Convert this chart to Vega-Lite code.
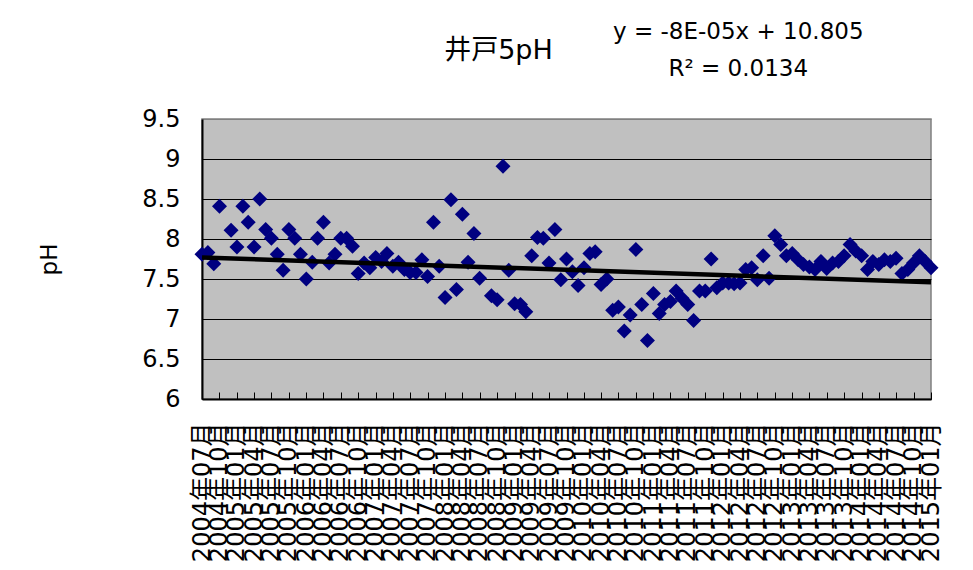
{
  "$schema": "https://vega.github.io/schema/vega-lite/v6.json",
  "width": 729,
  "height": 280,
  "autosize": "none",
  "padding": {"left": 202, "top": 119, "right": 42, "bottom": 171},
  "background": "white",
  "config": {
    "font": "DejaVu Sans, Noto Sans CJK JP",
    "view": {"fill": "#C0C0C0", "stroke": "#808080", "strokeWidth": 1.5},
    "axisX": {
      "title": null, "grid": false,
      "tickCount": {"interval": "month", "step": 3},
      "labelAngle": -90, "labelOverlap": false, "labelFlush": false, "labelBound": false,
      "labelFontSize": 24, "labelColor": "black", "labelPadding": 30,
      "domainColor": "black", "domainWidth": 2,
      "tickColor": "black", "tickWidth": 1, "tickSize": -7
    },
    "axisY": {
      "titleFontSize": 23, "titleFontWeight": "normal", "titleColor": "black", "titlePadding": 80,
      "tickCount": 8, "labelOverlap": false,
      "labelFontSize": 24, "labelColor": "black", "labelPadding": 22,
      "ticks": false, "tickSize": 0,
      "domainColor": "black", "domainWidth": 2,
      "grid": true, "gridOpacity": 1, "gridWidth": 1,
      "gridColor": {"condition": {"test": "datum.value == 9.5", "value": "#808080"}, "value": "black"}
    }
  },
  "datasets": {
    "ph": [
      {"date": "2004-07-01", "pH": 7.81}, {"date": "2004-08-01", "pH": 7.83}, {"date": "2004-09-01", "pH": 7.69}, {"date": "2004-10-01", "pH": 8.41}, {"date": "2004-12-01", "pH": 8.11},
      {"date": "2005-01-01", "pH": 7.90}, {"date": "2005-02-01", "pH": 8.41}, {"date": "2005-03-01", "pH": 8.21}, {"date": "2005-04-01", "pH": 7.90}, {"date": "2005-05-01", "pH": 8.50}, {"date": "2005-06-01", "pH": 8.12},
      {"date": "2005-07-01", "pH": 8.01}, {"date": "2005-08-01", "pH": 7.81}, {"date": "2005-09-01", "pH": 7.61}, {"date": "2005-10-01", "pH": 8.12}, {"date": "2005-11-01", "pH": 8.01}, {"date": "2005-12-01", "pH": 7.81},
      {"date": "2006-01-01", "pH": 7.50}, {"date": "2006-02-01", "pH": 7.71}, {"date": "2006-03-01", "pH": 8.01}, {"date": "2006-04-01", "pH": 8.21}, {"date": "2006-05-01", "pH": 7.70}, {"date": "2006-06-01", "pH": 7.81},
      {"date": "2006-07-01", "pH": 8.01}, {"date": "2006-08-01", "pH": 8.01}, {"date": "2006-09-01", "pH": 7.91}, {"date": "2006-10-01", "pH": 7.57}, {"date": "2006-11-01", "pH": 7.70}, {"date": "2006-12-01", "pH": 7.64},
      {"date": "2007-01-01", "pH": 7.77}, {"date": "2007-02-01", "pH": 7.72}, {"date": "2007-03-01", "pH": 7.82}, {"date": "2007-04-01", "pH": 7.66}, {"date": "2007-05-01", "pH": 7.71}, {"date": "2007-06-01", "pH": 7.62},
      {"date": "2007-07-01", "pH": 7.58}, {"date": "2007-08-01", "pH": 7.58}, {"date": "2007-09-01", "pH": 7.74}, {"date": "2007-10-01", "pH": 7.53}, {"date": "2007-11-01", "pH": 8.21}, {"date": "2007-12-01", "pH": 7.66},
      {"date": "2008-01-01", "pH": 7.27}, {"date": "2008-02-01", "pH": 8.49}, {"date": "2008-03-01", "pH": 7.37}, {"date": "2008-04-01", "pH": 8.31}, {"date": "2008-05-01", "pH": 7.71}, {"date": "2008-06-01", "pH": 8.07},
      {"date": "2008-07-01", "pH": 7.51}, {"date": "2008-09-01", "pH": 7.29}, {"date": "2008-10-01", "pH": 7.24}, {"date": "2008-11-01", "pH": 8.91}, {"date": "2008-12-01", "pH": 7.61},
      {"date": "2009-01-01", "pH": 7.19}, {"date": "2009-02-01", "pH": 7.18}, {"date": "2009-03-01", "pH": 7.09}, {"date": "2009-04-01", "pH": 7.79}, {"date": "2009-05-01", "pH": 8.02}, {"date": "2009-06-01", "pH": 8.01},
      {"date": "2009-07-01", "pH": 7.70}, {"date": "2009-08-01", "pH": 8.12}, {"date": "2009-09-01", "pH": 7.49}, {"date": "2009-10-01", "pH": 7.75}, {"date": "2009-11-01", "pH": 7.59}, {"date": "2009-12-01", "pH": 7.42},
      {"date": "2010-01-01", "pH": 7.64}, {"date": "2010-02-01", "pH": 7.82}, {"date": "2010-03-01", "pH": 7.84}, {"date": "2010-04-01", "pH": 7.43}, {"date": "2010-05-01", "pH": 7.50}, {"date": "2010-06-01", "pH": 7.11},
      {"date": "2010-07-01", "pH": 7.15}, {"date": "2010-08-01", "pH": 6.85}, {"date": "2010-09-01", "pH": 7.05}, {"date": "2010-10-01", "pH": 7.87}, {"date": "2010-11-01", "pH": 7.18}, {"date": "2010-12-01", "pH": 6.73},
      {"date": "2011-01-01", "pH": 7.32}, {"date": "2011-02-01", "pH": 7.07}, {"date": "2011-03-01", "pH": 7.18}, {"date": "2011-04-01", "pH": 7.22}, {"date": "2011-05-01", "pH": 7.35}, {"date": "2011-06-01", "pH": 7.26},
      {"date": "2011-07-01", "pH": 7.18}, {"date": "2011-08-01", "pH": 6.98}, {"date": "2011-09-01", "pH": 7.35}, {"date": "2011-10-01", "pH": 7.35}, {"date": "2011-11-01", "pH": 7.75}, {"date": "2011-12-01", "pH": 7.39},
      {"date": "2012-01-01", "pH": 7.45}, {"date": "2012-02-01", "pH": 7.45}, {"date": "2012-03-01", "pH": 7.44}, {"date": "2012-04-01", "pH": 7.45}, {"date": "2012-05-01", "pH": 7.62}, {"date": "2012-06-01", "pH": 7.64},
      {"date": "2012-07-01", "pH": 7.49}, {"date": "2012-08-01", "pH": 7.79}, {"date": "2012-09-01", "pH": 7.51}, {"date": "2012-10-01", "pH": 8.04}, {"date": "2012-11-01", "pH": 7.93}, {"date": "2012-12-01", "pH": 7.79},
      {"date": "2013-01-01", "pH": 7.82}, {"date": "2013-02-01", "pH": 7.74}, {"date": "2013-03-01", "pH": 7.68}, {"date": "2013-04-01", "pH": 7.65}, {"date": "2013-05-01", "pH": 7.62}, {"date": "2013-06-01", "pH": 7.72},
      {"date": "2013-07-01", "pH": 7.63}, {"date": "2013-08-01", "pH": 7.70}, {"date": "2013-09-01", "pH": 7.72}, {"date": "2013-10-01", "pH": 7.79}, {"date": "2013-11-01", "pH": 7.93}, {"date": "2013-12-01", "pH": 7.85},
      {"date": "2014-01-01", "pH": 7.79}, {"date": "2014-02-01", "pH": 7.62}, {"date": "2014-03-01", "pH": 7.72}, {"date": "2014-04-01", "pH": 7.68}, {"date": "2014-05-01", "pH": 7.74}, {"date": "2014-06-01", "pH": 7.72},
      {"date": "2014-07-01", "pH": 7.76}, {"date": "2014-08-01", "pH": 7.57}, {"date": "2014-09-01", "pH": 7.62}, {"date": "2014-10-01", "pH": 7.70}, {"date": "2014-11-01", "pH": 7.79}, {"date": "2014-12-01", "pH": 7.72},
      {"date": "2015-01-01", "pH": 7.64}
    ],
    "trend": [
      {"date": "2004-07-01", "pH": 7.77},
      {"date": "2015-01-01", "pH": 7.46}
    ]
  },
  "layer": [
    {
      "data": {"name": "ph"},
      "mark": {"type": "point", "shape": "diamond", "filled": true, "size": 225, "color": "#000080", "opacity": 1, "strokeWidth": 0},
      "encoding": {
        "x": {
          "field": "date", "type": "temporal",
          "scale": {"type": "utc", "nice": false, "domain": [{"year": 2004, "month": 7, "date": 1, "utc": true}, {"year": 2015, "month": 1, "date": 1, "utc": true}]},
          "axis": {"labelExpr": "utcFormat(datum.value, '%Y年%m月')"}
        },
        "y": {
          "field": "pH", "type": "quantitative",
          "scale": {"domain": [6, 9.5], "nice": false, "zero": false},
          "axis": {"title": "pH", "labelExpr": "format(datum.value, '~g')"}
        }
      }
    },
    {
      "data": {"name": "trend"},
      "mark": {"type": "line", "color": "black", "strokeWidth": 4.5},
      "encoding": {
        "x": {"field": "date", "type": "temporal", "axis": {"labelExpr": "utcFormat(datum.value, '%Y年%m月')"}},
        "y": {"field": "pH", "type": "quantitative", "axis": {"title": "pH", "labelExpr": "format(datum.value, '~g')"}}
      }
    },
    {
      "data": {"values": [{}]},
      "mark": {"type": "text", "fontSize": 27, "align": "center", "baseline": "middle", "color": "black", "text": "井戸5pH"},
      "encoding": {
        "x": {"datum": {"year": 2008, "month": 10, "date": 8, "utc": true}, "type": "temporal", "axis": {"labelExpr": "utcFormat(datum.value, '%Y年%m月')"}},
        "y": {"datum": 10.35, "type": "quantitative", "axis": {"title": "pH", "labelExpr": "format(datum.value, '~g')"}}
      }
    },
    {
      "data": {"values": [{}]},
      "mark": {"type": "text", "fontSize": 23, "align": "center", "baseline": "middle", "color": "black", "text": "y = -8E-05x + 10.805"},
      "encoding": {
        "x": {"datum": {"year": 2012, "month": 3, "date": 23, "utc": true}, "type": "temporal", "axis": {"labelExpr": "utcFormat(datum.value, '%Y年%m月')"}},
        "y": {"datum": 10.59, "type": "quantitative", "axis": {"title": "pH", "labelExpr": "format(datum.value, '~g')"}}
      }
    },
    {
      "data": {"values": [{}]},
      "mark": {"type": "text", "fontSize": 23, "align": "center", "baseline": "middle", "color": "black", "text": "R² = 0.0134"},
      "encoding": {
        "x": {"datum": {"year": 2012, "month": 3, "date": 23, "utc": true}, "type": "temporal", "axis": {"labelExpr": "utcFormat(datum.value, '%Y年%m月')"}},
        "y": {"datum": 10.13, "type": "quantitative", "axis": {"title": "pH", "labelExpr": "format(datum.value, '~g')"}}
      }
    }
  ]
}
